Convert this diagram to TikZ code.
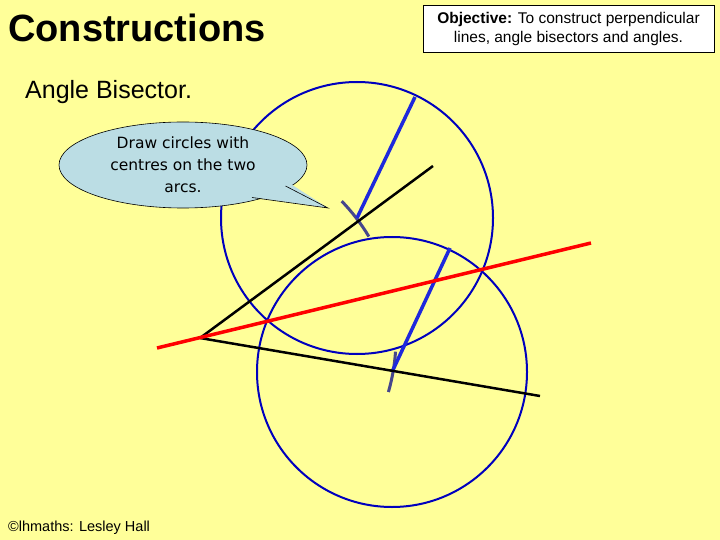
\documentclass[tikz,border=0pt]{standalone}
\usepackage{fontspec}
\setmainfont{Liberation Sans}
\newfontfamily\comic{DejaVu Sans}
\begin{document}
\begin{tikzpicture}[x=1pt,y=-1pt,
  circ/.style={draw={rgb,255:red,0;green,0;blue,190},line width=2pt},
  rad/.style={draw={rgb,255:red,30;green,40;blue,220},line width=3.5pt},
  arm/.style={draw=black,line width=2.5pt},
  arcmark/.style={draw={rgb,255:red,70;green,70;blue,140},line width=3pt},
  bubble/.style={fill={rgb,255:red,187;green,221;blue,228}}]
\fill[fill={rgb,255:red,255;green,255;blue,153}] (0,0) rectangle (720,540);
\useasboundingbox (0,0) rectangle (720,540);
\node[anchor=west,inner sep=0pt,font=\bfseries\fontsize{38}{40}\selectfont] (title) at (8,28) {Constructions};
\node[draw,fill=white,line width=0.6pt,minimum width=291pt,minimum height=47pt,align=center,font=\fontsize{15.5}{19}\selectfont] (obj) at (568.5,28.5) {\textbf{Objective:} To construct perpendicular\\lines, angle bisectors and angles.};
\node[anchor=west,inner sep=0pt,font=\fontsize{25}{28}\selectfont] (ab) at (25,92) {Angle Bisector.};
\node[anchor=west,inner sep=0pt,font=\fontsize{14.5}{16}\selectfont] (foot) at (8,528) {©lhmaths: Lesley Hall};
% geometry
\coordinate (V) at (200,338);
\coordinate (U) at (433,166);
\coordinate (L) at (540,396);
\coordinate (C1) at (357,218);
\coordinate (C2) at (392,372);
\coordinate (R1) at (157,348);
\coordinate (R2) at (591,243);
\coordinate (E1) at (415,97);
\coordinate (E2) at (450,248);
\draw[circ] (C1) circle (136);
\draw[circ] (C2) circle (135);
\draw[arcmark] (V) ++(-44:197) arc[start angle=-44,end angle=-31,radius=197];
\draw[arcmark] (V) ++(4:196) arc[start angle=4,end angle=16,radius=196];
\draw[rad] (C1) -- (E1);
\draw[rad] (C2) -- (E2);
\draw[arm] (V) -- (U);
\draw[arm] (V) -- (L);
\draw[draw=red,line width=3.5pt] (R1) -- (R2);
% callout
\draw[bubble,line width=0.6pt] (183,165) ellipse[x radius=124,y radius=43];
\coordinate (T) at (328,208);
\fill[bubble] (286,181) -- (T) -- (250,197) -- (250,190) -- (286,175) -- cycle;
\draw[line width=0.6pt] (285.5,186) -- (T) -- (252,197.5);
\node[align=center,font=\comic\fontsize{15.5}{22}\selectfont] (call) at (183,165) {Draw circles with\\centres on the two\\arcs.};
\end{tikzpicture}
\end{document}
